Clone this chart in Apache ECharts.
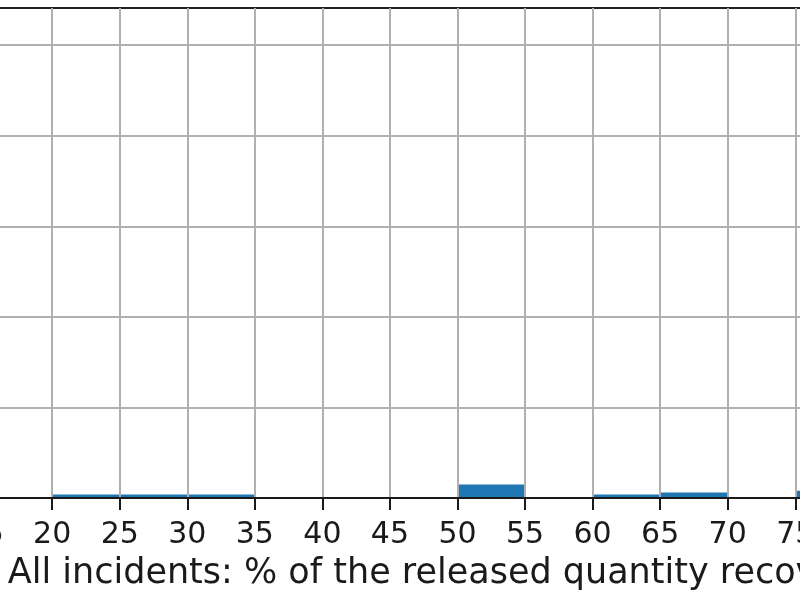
<!DOCTYPE html>
<html>
<head>
<meta charset="utf-8">
<script src="https://cdn.jsdelivr.net/npm/echarts@6/dist/echarts.min.js"></script>
<style>
  html, body { margin: 0; padding: 0; background: #fff; }
  #chart { width: 800px; height: 600px; }
</style>
</head>
<body>
<div id="chart"></div>
<script>
// histogram bins (left edges, width 5) and counts
const binStarts = [15, 20, 25, 30, 35, 40, 45, 50, 55, 60, 65, 70, 75];
const binWidth = 5;
const counts = [1, 4, 4, 4, 1, 1, 1, 15, 1, 4, 6, 1, 8];
const xTitle = 'All incidents: % of the released quantity recovered';

const chart = echarts.init(document.getElementById('chart'));

const option = {
  animation: false,
  grid: {
    left: -218,
    right: -333,
    top: 8,
    bottom: 102,
    outerBoundsMode: 'none',
    containLabel: false,
    show: true,
    borderColor: '#222',
    borderWidth: 2,
    backgroundColor: '#fff'
  },
  xAxis: {
    type: 'value',
    min: 0,
    max: 100,
    interval: 5,
    z: 10,
    name: xTitle,
    nameLocation: 'middle',
    nameGap: 58,
    nameTextStyle: {fontFamily: 'DejaVu Sans', fontSize: 35, color: '#1a1a1a', padding: [0, 12, 0, 0]},
    axisLine: {show: true, lineStyle: {color: '#1a1a1a', width: 2}},
    axisTick: {show: true, length: 12, lineStyle: {color: '#1a1a1a', width: 2}},
    axisLabel: {fontFamily: 'DejaVu Sans', fontSize: 30, color: '#1a1a1a', margin: 22},
    splitLine: {show: true, lineStyle: {color: '#b0b0b0', width: 2}}
  },
  yAxis: {
    type: 'value',
    min: 0,
    max: 541,
    interval: 100,
    z: 10,
    axisLine: {show: false},
    axisTick: {show: false},
    axisLabel: {show: false},
    splitLine: {show: true, showMaxLine: false, lineStyle: {color: '#b0b0b0', width: 2}}
  },
  series: [{
    type: 'custom',
    data: binStarts.map((b, i) => [b, b + binWidth, counts[i]]),
    encode: {x: [0, 1], y: 2},
    itemStyle: {color: '#1f77b4'},
    renderItem: function (params, api) {
      const p0 = api.coord([api.value(0), api.value(2)]);
      const p1 = api.coord([api.value(1), 0]);
      return {
        type: 'rect',
        shape: {x: p0[0], y: p0[1], width: p1[0] - p0[0], height: p1[1] - p0[1]},
        style: api.style()
      };
    }
  }]
};

chart.setOption(option);
</script>
</body>
</html>
